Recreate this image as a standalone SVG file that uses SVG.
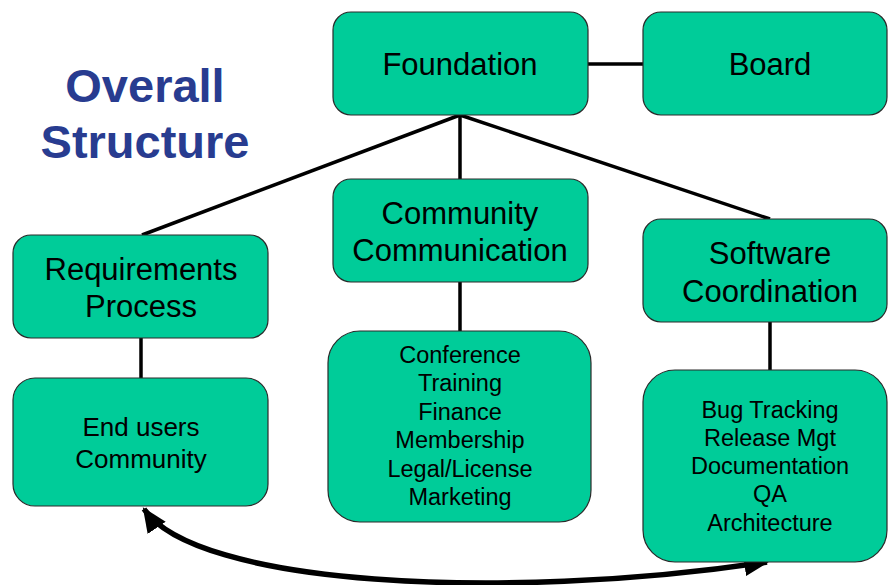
<svg xmlns="http://www.w3.org/2000/svg" width="888" height="585" viewBox="0 0 888 585">
<style>
.box{fill:#00CC99;stroke:#2a2a2a;stroke-width:1.2}
.t{font-family:"Liberation Sans",Arial,sans-serif;fill:#000;text-anchor:middle}
.big{font-size:31px}
.mid{font-size:26px}
.sm{font-size:23.5px}
.title{font-family:"Liberation Sans",Arial,sans-serif;font-weight:bold;font-size:47px;fill:#283C90;text-anchor:middle}
.ln{stroke:#000;stroke-width:3.5;fill:none}
</style>
<defs>
<marker id="ah" markerUnits="userSpaceOnUse" markerWidth="26" markerHeight="24" refX="21" refY="10" orient="auto-start-reverse" viewBox="0 0 24 20">
<path d="M0,0 L23,10 L0,20 Z" fill="#000"/>
</marker>
</defs>
<rect width="888" height="585" fill="#fff"/>
<text class="title" x="145" y="102">Overall</text>
<text class="title" x="145" y="158">Structure</text>
<g id="connectors">
<line class="ln" x1="588" y1="64" x2="643" y2="64"/>
<line class="ln" x1="460" y1="115" x2="142" y2="235"/>
<line class="ln" x1="460" y1="115" x2="460" y2="179"/>
<line class="ln" x1="460" y1="115" x2="770" y2="219"/>
<line class="ln" x1="141" y1="338" x2="141" y2="378"/>
<line class="ln" x1="460" y1="282" x2="460" y2="331"/>
<line class="ln" x1="770" y1="322" x2="770" y2="370"/>
<path d="M144,509 C195,585 500,602 767,562" stroke="#000" stroke-width="5.5" fill="none" marker-start="url(#ah)" marker-end="url(#ah)"/>
</g>
<g id="foundation">
<rect class="box" x="333" y="12" width="255" height="103" rx="18"/>
<text class="t big" x="460" y="75">Foundation</text>
</g>
<g id="board">
<rect class="box" x="643" y="12" width="244" height="103" rx="18"/>
<text class="t big" x="770" y="75">Board</text>
</g>
<g id="community">
<rect class="box" x="333" y="179" width="255" height="103" rx="18"/>
<text class="t big" x="460" y="224">Community</text>
<text class="t big" x="460" y="261">Communication</text>
</g>
<g id="requirements">
<rect class="box" x="13" y="235" width="255" height="103" rx="18"/>
<text class="t big" x="141" y="280">Requirements</text>
<text class="t big" x="141" y="317">Process</text>
</g>
<g id="software">
<rect class="box" x="643" y="219" width="244" height="103" rx="18"/>
<text class="t big" x="770" y="264">Software</text>
<text class="t big" x="770" y="302">Coordination</text>
</g>
<g id="endusers">
<rect class="box" x="13" y="378" width="255" height="128" rx="22"/>
<text class="t mid" x="141" y="436">End users</text>
<text class="t mid" x="141" y="468">Community</text>
</g>
<g id="commlist">
<rect class="box" x="328" y="331" width="263" height="191" rx="32"/>
<text class="t sm" x="460" y="363">Conference</text>
<text class="t sm" x="460" y="391">Training</text>
<text class="t sm" x="460" y="420">Finance</text>
<text class="t sm" x="460" y="448">Membership</text>
<text class="t sm" x="460" y="477">Legal/License</text>
<text class="t sm" x="460" y="505">Marketing</text>
</g>
<g id="softlist">
<rect class="box" x="643" y="370" width="244" height="192" rx="32"/>
<text class="t sm" x="770" y="418">Bug Tracking</text>
<text class="t sm" x="770" y="446">Release Mgt</text>
<text class="t sm" x="770" y="474">Documentation</text>
<text class="t sm" x="770" y="502">QA</text>
<text class="t sm" x="770" y="531">Architecture</text>
</g>
</svg>
